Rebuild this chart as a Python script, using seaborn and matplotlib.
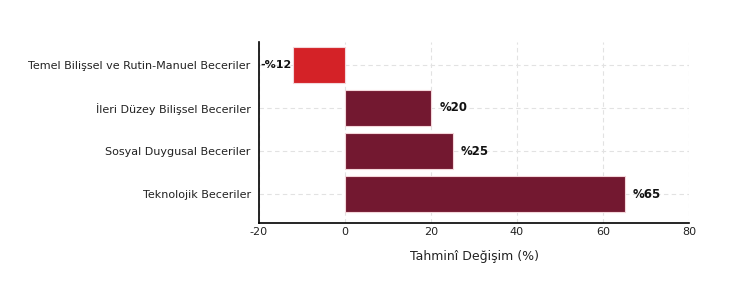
import matplotlib
matplotlib.use("Agg")
import matplotlib.pyplot as plt
import seaborn as sns
import pandas as pd

categories = ["Temel Bilişsel ve Rutin-Manuel Beceriler", "İleri Düzey Bilişsel Beceriler",
              "Sosyal Duygusal Beceriler", "Teknolojik Beceriler"]
values = [-12, 20, 25, 65]
labels = ["-%12", "%20", "%25", "%65"]
colors = ["#D42227", "#731830", "#731830", "#731830"]

sns.set_theme(style="white")
plt.rcParams['font.family'] = ['DejaVu Sans']
plt.rcParams['axes.unicode_minus'] = False

df = pd.DataFrame({"cat": categories, "val": values})
fig = plt.figure(figsize=(7.44, 2.83), dpi=100)
ax = fig.add_axes([259/744, 1-223/283, 430/744, (223-42)/283])
sns.barplot(data=df, x="val", y="cat", hue="cat", palette=colors, legend=False,
            saturation=1, width=0.82, ax=ax, edgecolor="#f3d6da", linewidth=0.8, zorder=3)
ax.set_xlim(-20, 80)
ax.set_ylim(3.67, -0.53)
ax.set_xticks([-20, 0, 20, 40, 60, 80])
ax.grid(True, linestyle=(0, (4, 3)), color="#e2e2e2", linewidth=0.8, zorder=0)
ax.set_axisbelow(True)
for s in ["top", "right"]:
    ax.spines[s].set_visible(False)
for s in ["left", "bottom"]:
    ax.spines[s].set_color("black")
    ax.spines[s].set_linewidth(1.2)
ax.tick_params(axis="y", labelsize=8, colors="#222222", length=0, pad=6)
ax.tick_params(axis="x", labelsize=8, colors="#222222", length=0, pad=3)
ax.set_ylabel("")
ax.set_xlabel("Tahminî Değişim (%)", fontsize=9, color="#222222", labelpad=9)
for i, (v, t) in enumerate(zip(values, labels)):
    if v < 0:
        ax.text(v - 0.4, i, t, ha="right", va="center", fontsize=8, fontweight="bold",
                color="#111111", zorder=5)
    else:
        ax.text(v + 2, i, t, ha="left", va="center", fontsize=8.5, fontweight="bold",
                color="#111111", zorder=5)
fig.savefig("out.png", dpi=100)
